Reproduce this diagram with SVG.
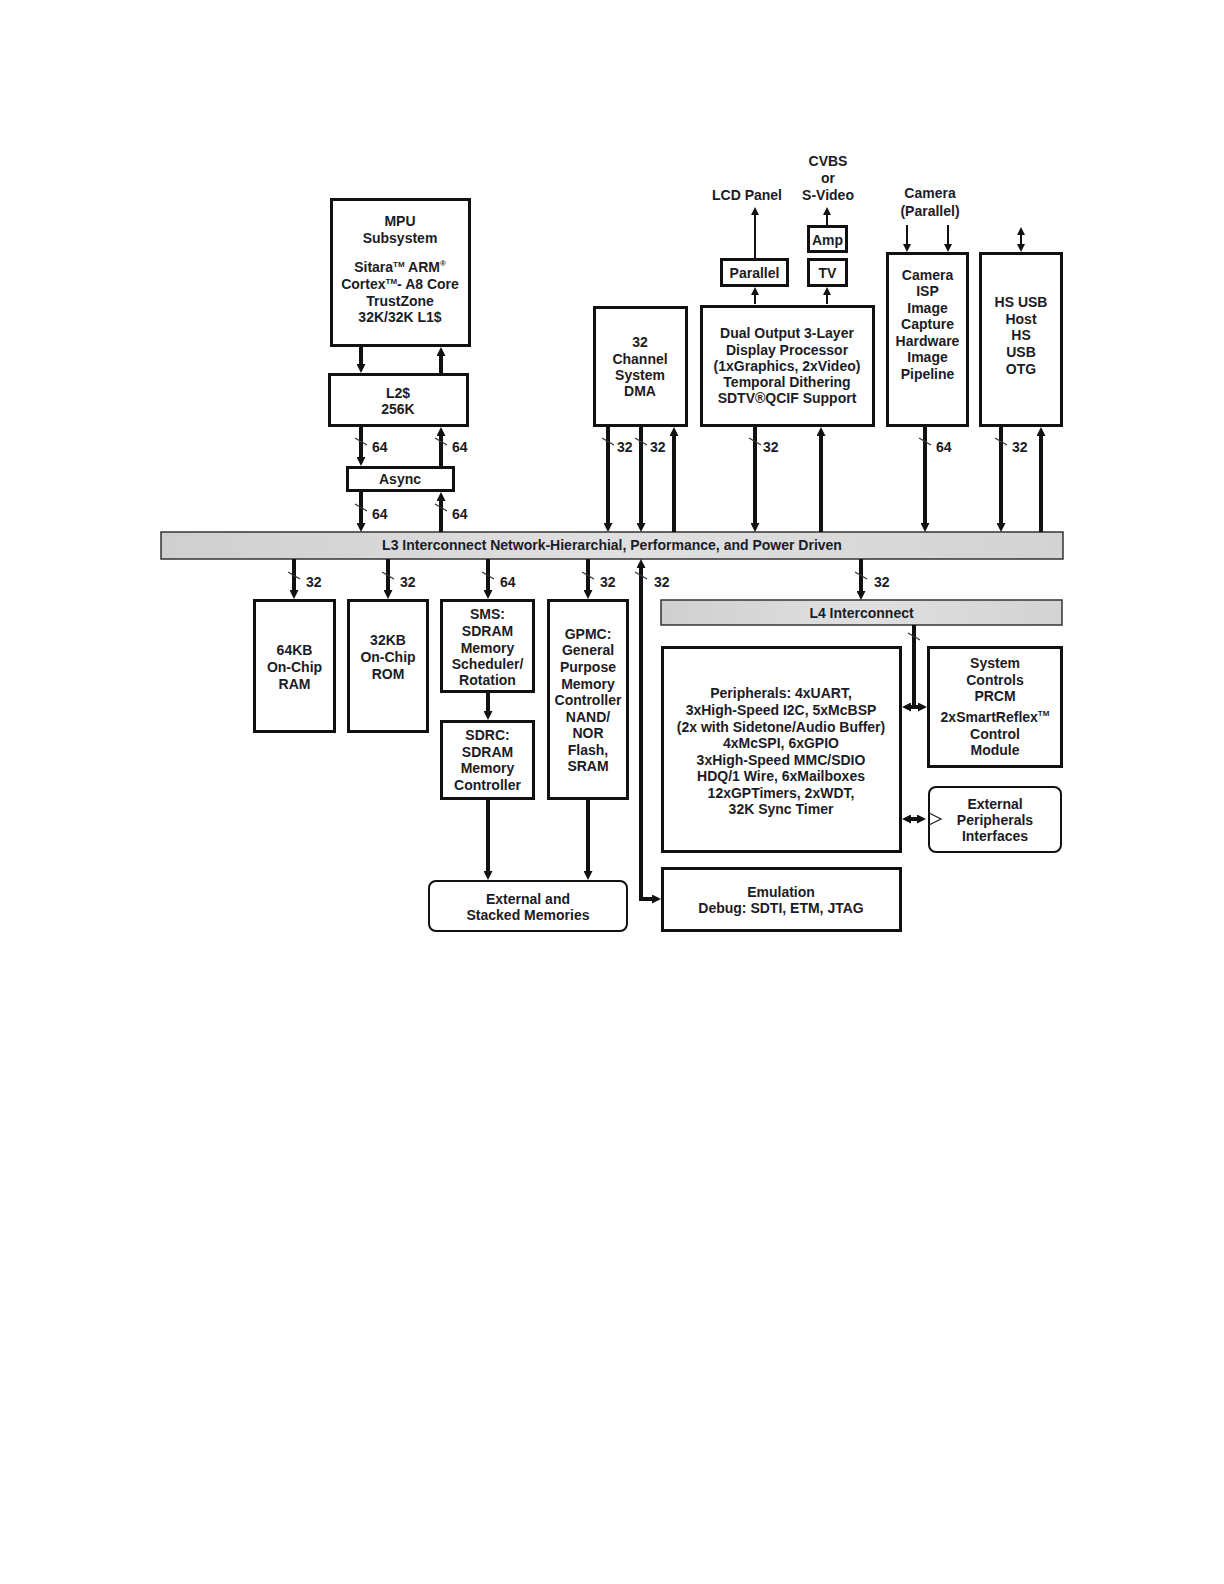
<svg xmlns="http://www.w3.org/2000/svg" width="1224" height="1584" viewBox="0 0 1224 1584">
<defs>
<style>
.box{fill:#fff;stroke:#111;stroke-width:3}
.rbox{fill:#fff;stroke:#111;stroke-width:2}
.bar{fill:url(#barg);stroke:#333;stroke-width:1.5}
text{font-family:"Liberation Sans",Arial,Helvetica,sans-serif;font-weight:bold;font-size:14px;fill:#1c1c26;text-anchor:middle}
text.lbl{text-anchor:start}
.bus{stroke:#111;stroke-width:4;fill:none}
.thin{stroke:#111;stroke-width:2;fill:none}
.tick{stroke:#333;stroke-width:1.2;fill:none}
.bA{marker-end:url(#ah)}
.bAA{marker-start:url(#ah);marker-end:url(#ah)}
.tA{marker-end:url(#as)}
.tAA{marker-start:url(#as);marker-end:url(#as)}
</style>
<linearGradient id="barg" x1="0" y1="0" x2="1" y2="0">
<stop offset="0" stop-color="#cfcfcf"/>
<stop offset="0.5" stop-color="#e0e0e0"/>
<stop offset="1" stop-color="#d3d3d3"/>
</linearGradient>
<marker id="ah" viewBox="0 0 9 9" refX="4" refY="4.5" markerWidth="9" markerHeight="9" markerUnits="userSpaceOnUse" orient="auto-start-reverse">
<path d="M0,0 L9,4.5 L0,9 z" fill="#111"/>
</marker>
<marker id="as" viewBox="0 0 8 8" refX="6" refY="4" markerWidth="8" markerHeight="8" markerUnits="userSpaceOnUse" orient="auto-start-reverse">
<path d="M0,0 L8,4 L0,8 z" fill="#111"/>
</marker>
</defs>
<rect width="1224" height="1584" fill="#fff"/>

<g id="ext-labels">
<text x="747" y="200">LCD Panel</text>
<text x="828" y="166">CVBS</text>
<text x="828" y="183">or</text>
<text x="828" y="200">S-Video</text>
<text x="930" y="198">Camera</text>
<text x="930" y="216">(Parallel)</text>
</g>

<g id="mpu">
<rect class="box" x="331.5" y="199.5" width="138" height="146"/>
<text x="400" y="226">MPU</text>
<text x="400" y="243">Subsystem</text>
<text x="400" y="272">Sitara<tspan font-size="8" dy="-5">TM</tspan><tspan dy="5"> ARM</tspan><tspan font-size="8" dy="-6">®</tspan></text>
<text x="400" y="289">Cortex<tspan font-size="8" dy="-5">TM</tspan><tspan dy="5">- A8 Core</tspan></text>
<text x="400" y="306">TrustZone</text>
<text x="400" y="322">32K/32K L1$</text>
</g>
<g id="l2">
<rect class="box" x="329.5" y="374.5" width="138" height="51"/>
<text x="398" y="398">L2$</text>
<text x="398" y="414">256K</text>
</g>
<g id="async">
<rect class="box" x="347.5" y="467.5" width="106" height="23" stroke-width="2.5"/>
<text x="400" y="484">Async</text>
</g>
<g id="dma">
<rect class="box" x="594.5" y="307.5" width="92" height="118"/>
<text x="640" y="347">32</text>
<text x="640" y="363.5">Channel</text>
<text x="640" y="380">System</text>
<text x="640" y="396">DMA</text>
</g>
<g id="display">
<rect class="box" x="701.5" y="306.5" width="172" height="119"/>
<text x="787" y="338">Dual Output 3-Layer</text>
<text x="787" y="354.5">Display Processor</text>
<text x="787" y="371">(1xGraphics, 2xVideo)</text>
<text x="787" y="387">Temporal Dithering</text>
<text x="787" y="403">SDTV®QCIF Support</text>
</g>
<g id="parallel">
<rect class="box" x="721.5" y="259.5" width="66" height="26"/>
<text x="754.5" y="278">Parallel</text>
</g>
<g id="tv">
<rect class="box" x="808.5" y="259.5" width="38" height="26"/>
<text x="827.5" y="278">TV</text>
</g>
<g id="amp">
<rect class="box" x="808.5" y="226.5" width="38" height="25"/>
<text x="827.5" y="245">Amp</text>
</g>
<g id="camera-isp">
<rect class="box" x="887.5" y="253.5" width="80" height="172"/>
<text x="927.5" y="280">Camera</text>
<text x="927.5" y="296">ISP</text>
<text x="927.5" y="313">Image</text>
<text x="927.5" y="329">Capture</text>
<text x="927.5" y="345.5">Hardware</text>
<text x="927.5" y="362">Image</text>
<text x="927.5" y="378.5">Pipeline</text>
</g>
<g id="hs-usb">
<rect class="box" x="980.5" y="253.5" width="81" height="172"/>
<text x="1021" y="307">HS USB</text>
<text x="1021" y="323.5">Host</text>
<text x="1021" y="340">HS</text>
<text x="1021" y="357">USB</text>
<text x="1021" y="373.5">OTG</text>
</g>
<g id="l3">
<rect class="bar" x="161" y="532" width="902" height="27"/>
<text x="612" y="550">L3 Interconnect Network-Hierarchial, Performance, and Power Driven</text>
</g>
<g id="ram">
<rect class="box" x="254.5" y="600.5" width="80" height="131"/>
<text x="294.5" y="655">64KB</text>
<text x="294.5" y="672">On-Chip</text>
<text x="294.5" y="688.5">RAM</text>
</g>
<g id="rom">
<rect class="box" x="348.5" y="600.5" width="79" height="131"/>
<text x="388" y="645">32KB</text>
<text x="388" y="662">On-Chip</text>
<text x="388" y="678.5">ROM</text>
</g>
<g id="sms">
<rect class="box" x="441.5" y="600.5" width="92" height="91"/>
<text x="487.5" y="619">SMS:</text>
<text x="487.5" y="636">SDRAM</text>
<text x="487.5" y="652.5">Memory</text>
<text x="487.5" y="669">Scheduler/</text>
<text x="487.5" y="685">Rotation</text>
</g>
<g id="sdrc">
<rect class="box" x="441.5" y="721.5" width="92" height="77"/>
<text x="487.5" y="740">SDRC:</text>
<text x="487.5" y="756.5">SDRAM</text>
<text x="487.5" y="773">Memory</text>
<text x="487.5" y="790">Controller</text>
</g>
<g id="gpmc">
<rect class="box" x="548.5" y="600.5" width="79" height="198"/>
<text x="588" y="638.5">GPMC:</text>
<text x="588" y="655">General</text>
<text x="588" y="672">Purpose</text>
<text x="588" y="688.5">Memory</text>
<text x="588" y="705">Controller</text>
<text x="588" y="721.5">NAND/</text>
<text x="588" y="738">NOR</text>
<text x="588" y="754.5">Flash,</text>
<text x="588" y="771">SRAM</text>
</g>
<g id="ext-mem">
<rect class="rbox" x="429" y="881" width="198" height="50" rx="7"/>
<text x="528" y="903.5">External and</text>
<text x="528" y="919.5">Stacked Memories</text>
</g>
<g id="l4">
<rect class="bar" x="661" y="600" width="401" height="25"/>
<text x="861.5" y="618">L4 Interconnect</text>
</g>
<g id="peripherals">
<rect class="box" x="662.5" y="647.5" width="238" height="204"/>
<text x="781" y="698">Peripherals: 4xUART,</text>
<text x="781" y="715">3xHigh-Speed I2C, 5xMcBSP</text>
<text x="781" y="731.5">(2x with Sidetone/Audio Buffer)</text>
<text x="781" y="748">4xMcSPI, 6xGPIO</text>
<text x="781" y="764.5">3xHigh-Speed MMC/SDIO</text>
<text x="781" y="781">HDQ/1 Wire, 6xMailboxes</text>
<text x="781" y="797.5">12xGPTimers, 2xWDT,</text>
<text x="781" y="814">32K Sync Timer</text>
</g>
<g id="system-controls">
<rect class="box" x="928.5" y="647.5" width="133" height="119"/>
<text x="995" y="668">System</text>
<text x="995" y="685">Controls</text>
<text x="995" y="701">PRCM</text>
<text x="995" y="722">2xSmartReflex<tspan font-size="8" dy="-6">TM</tspan></text>
<text x="995" y="738.5">Control</text>
<text x="995" y="754.5">Module</text>
</g>
<g id="ext-periph">
<rect class="rbox" x="929" y="787" width="132" height="65" rx="7"/>
<text x="995" y="808.5">External</text>
<text x="995" y="825">Peripherals</text>
<text x="995" y="841">Interfaces</text>
</g>
<g id="emulation">
<rect class="box" x="662.5" y="868.5" width="238" height="62"/>
<text x="781" y="897">Emulation</text>
<text x="781" y="912.5">Debug: SDTI, ETM, JTAG</text>
</g>

<g id="connectors">
<line class="bus bA" x1="361" y1="347" x2="361" y2="368"/>
<line class="bus bA" x1="441" y1="373" x2="441" y2="352"/>
<line class="bus bA" x1="361" y1="427" x2="361" y2="461"/>
<line class="bus bA" x1="441" y1="466" x2="441" y2="432"/>
<line class="bus bA" x1="361" y1="492" x2="361" y2="527"/>
<line class="bus bA" x1="441" y1="532" x2="441" y2="497"/>
<line class="bus bA" x1="608" y1="427" x2="608" y2="527"/>
<line class="bus bA" x1="641" y1="427" x2="641" y2="527"/>
<line class="bus bA" x1="674" y1="532" x2="674" y2="432"/>
<line class="bus bA" x1="755" y1="427" x2="755" y2="527"/>
<line class="bus bA" x1="821" y1="532" x2="821" y2="432"/>
<line class="bus bA" x1="925" y1="427" x2="925" y2="527"/>
<line class="bus bA" x1="1001" y1="427" x2="1001" y2="527"/>
<line class="bus bA" x1="1041" y1="532" x2="1041" y2="432"/>
<line class="bus bA" x1="294" y1="559" x2="294" y2="594"/>
<line class="bus bA" x1="388" y1="559" x2="388" y2="594"/>
<line class="bus bA" x1="488" y1="559" x2="488" y2="594"/>
<line class="bus bA" x1="588" y1="559" x2="588" y2="594"/>
<line class="bus bA" x1="861" y1="559" x2="861" y2="595"/>
<polyline class="bus bAA" points="656,899 641,899 641,564"/>
<line class="bus bA" x1="488" y1="693" x2="488" y2="715"/>
<line class="bus bA" x1="488" y1="800" x2="488" y2="875"/>
<line class="bus bA" x1="588" y1="800" x2="588" y2="875"/>
<line class="bus" x1="914" y1="625" x2="914" y2="707"/>
<line class="bus bAA" x1="907" y1="707" x2="922" y2="707"/>
<line class="bus bAA" x1="907" y1="819" x2="921" y2="819"/>
<polyline points="929,813 941,819 929,825" fill="none" stroke="#222" stroke-width="1.3"/>
<line class="thin tA" x1="755" y1="304" x2="755" y2="289"/>
<line class="thin tA" x1="827" y1="304" x2="827" y2="289"/>
<line class="thin tA" x1="755" y1="258" x2="755" y2="209"/>
<line class="thin tA" x1="827" y1="225" x2="827" y2="209"/>
<line class="thin tA" x1="907" y1="225" x2="907" y2="250"/>
<line class="thin tA" x1="948" y1="225" x2="948" y2="250"/>
<line class="thin tAA" x1="1021" y1="229" x2="1021" y2="250"/>
<line class="tick" x1="355" y1="438" x2="367" y2="445"/>
<line class="tick" x1="435" y1="438" x2="447" y2="445"/>
<line class="tick" x1="355" y1="504" x2="367" y2="511"/>
<line class="tick" x1="435" y1="504" x2="447" y2="511"/>
<line class="tick" x1="602" y1="438" x2="614" y2="445"/>
<line class="tick" x1="635" y1="438" x2="647" y2="445"/>
<line class="tick" x1="749" y1="438" x2="761" y2="445"/>
<line class="tick" x1="919" y1="438" x2="931" y2="445"/>
<line class="tick" x1="995" y1="438" x2="1007" y2="445"/>
<line class="tick" x1="288" y1="572" x2="300" y2="579"/>
<line class="tick" x1="382" y1="572" x2="394" y2="579"/>
<line class="tick" x1="482" y1="572" x2="494" y2="579"/>
<line class="tick" x1="582" y1="572" x2="594" y2="579"/>
<line class="tick" x1="635" y1="572" x2="647" y2="579"/>
<line class="tick" x1="855" y1="572" x2="867" y2="579"/>
<line class="tick" x1="908" y1="633" x2="920" y2="640"/>
</g>

<g id="bus-labels">
<text class="lbl" x="372" y="452">64</text>
<text class="lbl" x="452" y="452">64</text>
<text class="lbl" x="372" y="519">64</text>
<text class="lbl" x="452" y="519">64</text>
<text class="lbl" x="617" y="452">32</text>
<text class="lbl" x="650" y="452">32</text>
<text class="lbl" x="763" y="452">32</text>
<text class="lbl" x="936" y="452">64</text>
<text class="lbl" x="1012" y="452">32</text>
<text class="lbl" x="306" y="587">32</text>
<text class="lbl" x="400" y="587">32</text>
<text class="lbl" x="500" y="587">64</text>
<text class="lbl" x="600" y="587">32</text>
<text class="lbl" x="654" y="587">32</text>
<text class="lbl" x="874" y="587">32</text>
</g>
</svg>
